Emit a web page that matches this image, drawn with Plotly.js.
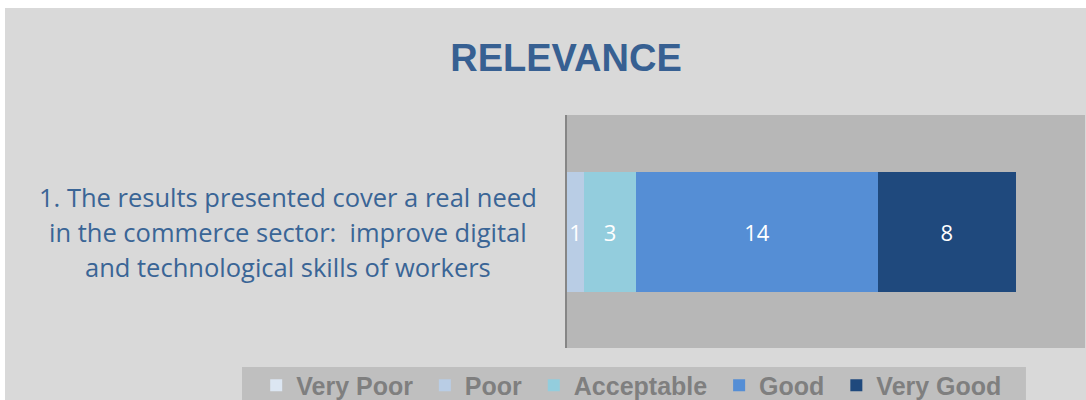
<!DOCTYPE html>
<html>
<head>
<meta charset="utf-8">
<script src="https://cdn.plot.ly/plotly-3.0.1.min.js"></script>
<style>
html,body{margin:0;padding:0;background:#ffffff;}
#chart{position:absolute;left:5px;top:8px;width:1081px;height:392px;}
</style>
</head>
<body>
<div id="chart"></div>
<script>
const categories = ["1. The results presented cover a real need<br>in the commerce sector: \u00a0improve digital<br>and technological skills of workers"];
const seriesNames = ["Very Poor", "Poor", "Acceptable", "Good", "Very Good"];
const veryPoor = [0];
const poor = [1];
const acceptable = [3];
const good = [14];
const veryGood = [8];
const chartTitle = "RELEVANCE";

const seriesValues = [veryPoor, poor, acceptable, good, veryGood];
const colors = ["#dce6f2", "#b9cde5", "#93cddd", "#558ed5", "#1f497d"];

const traces = seriesNames.map((name, i) => ({
  type: 'bar',
  orientation: 'h',
  name: name + '\u00a0',
  y: categories,
  x: seriesValues[i],
  text: seriesValues[i].map(v => v > 0 ? String(v) : ''),
  textposition: 'inside',
  insidetextanchor: 'middle',
  textangle: 0,
  constraintext: 'none',
  cliponaxis: false,
  textfont: {family: 'Open Sans, sans-serif', size: 22, color: '#ffffff'},
  marker: {color: colors[i], line: {width: 0}},
  hoverinfo: 'skip'
}));

const catLines = categories[0].split('<br>');
const annotations = catLines.map((line, k) => ({
  xref: 'paper', yref: 'y',
  x: -0.5386, y: categories[0],
  xanchor: 'center', yanchor: 'middle',
  yshift: (1 - k) * 35,
  text: line,
  showarrow: false,
  font: {family: 'Open Sans, sans-serif', size: 25.5, color: '#3a6596'}
}));

const layout = {
  width: 1081, height: 392,
  margin: {l: 562, r: 1, t: 107, b: 52, autoexpand: false},
  paper_bgcolor: '#d9d9d9',
  plot_bgcolor: '#b7b7b7',
  barmode: 'stack',
  bargap: 0.485,
  showlegend: true,
  uniformtext: {mode: 'show', minsize: 22},
  title: {
    text: chartTitle,
    x: 0.519, xanchor: 'center',
    y: 0.872, yanchor: 'middle',
    yref: 'container',
    font: {family: 'Liberation Sans, Arial, sans-serif', size: 38, weight: 'bold', color: '#376092'}
  },
  xaxis: {range: [0, 30], showgrid: false, zeroline: false, showticklabels: false, ticks: '', showline: false, fixedrange: true},
  yaxis: {showticklabels: false, ticks: '', showgrid: false, zeroline: false, showline: true, linecolor: '#868686', linewidth: 2, fixedrange: true},
  shapes: [{
    type: 'rect', xref: 'paper', yref: 'paper',
    x0: -0.6274, x1: 0.886, y0: -0.0815, y1: -0.26,
    fillcolor: '#bfbfbf', line: {width: 0}, layer: 'below'
  }],
  legend: {
    orientation: 'h',
    traceorder: 'normal',
    x: -0.600, xanchor: 'left',
    y: -0.062, yanchor: 'top',
    bgcolor: 'rgba(0,0,0,0)',
    borderwidth: 0,
    itemclick: false,
    font: {family: 'Liberation Sans, Arial, sans-serif', size: 25, weight: 'bold', color: '#7f7f7f'}
  },
  annotations: annotations
};

Plotly.newPlot('chart', traces, layout, {staticPlot: true, displayModeBar: false});
</script>
</body>
</html>
